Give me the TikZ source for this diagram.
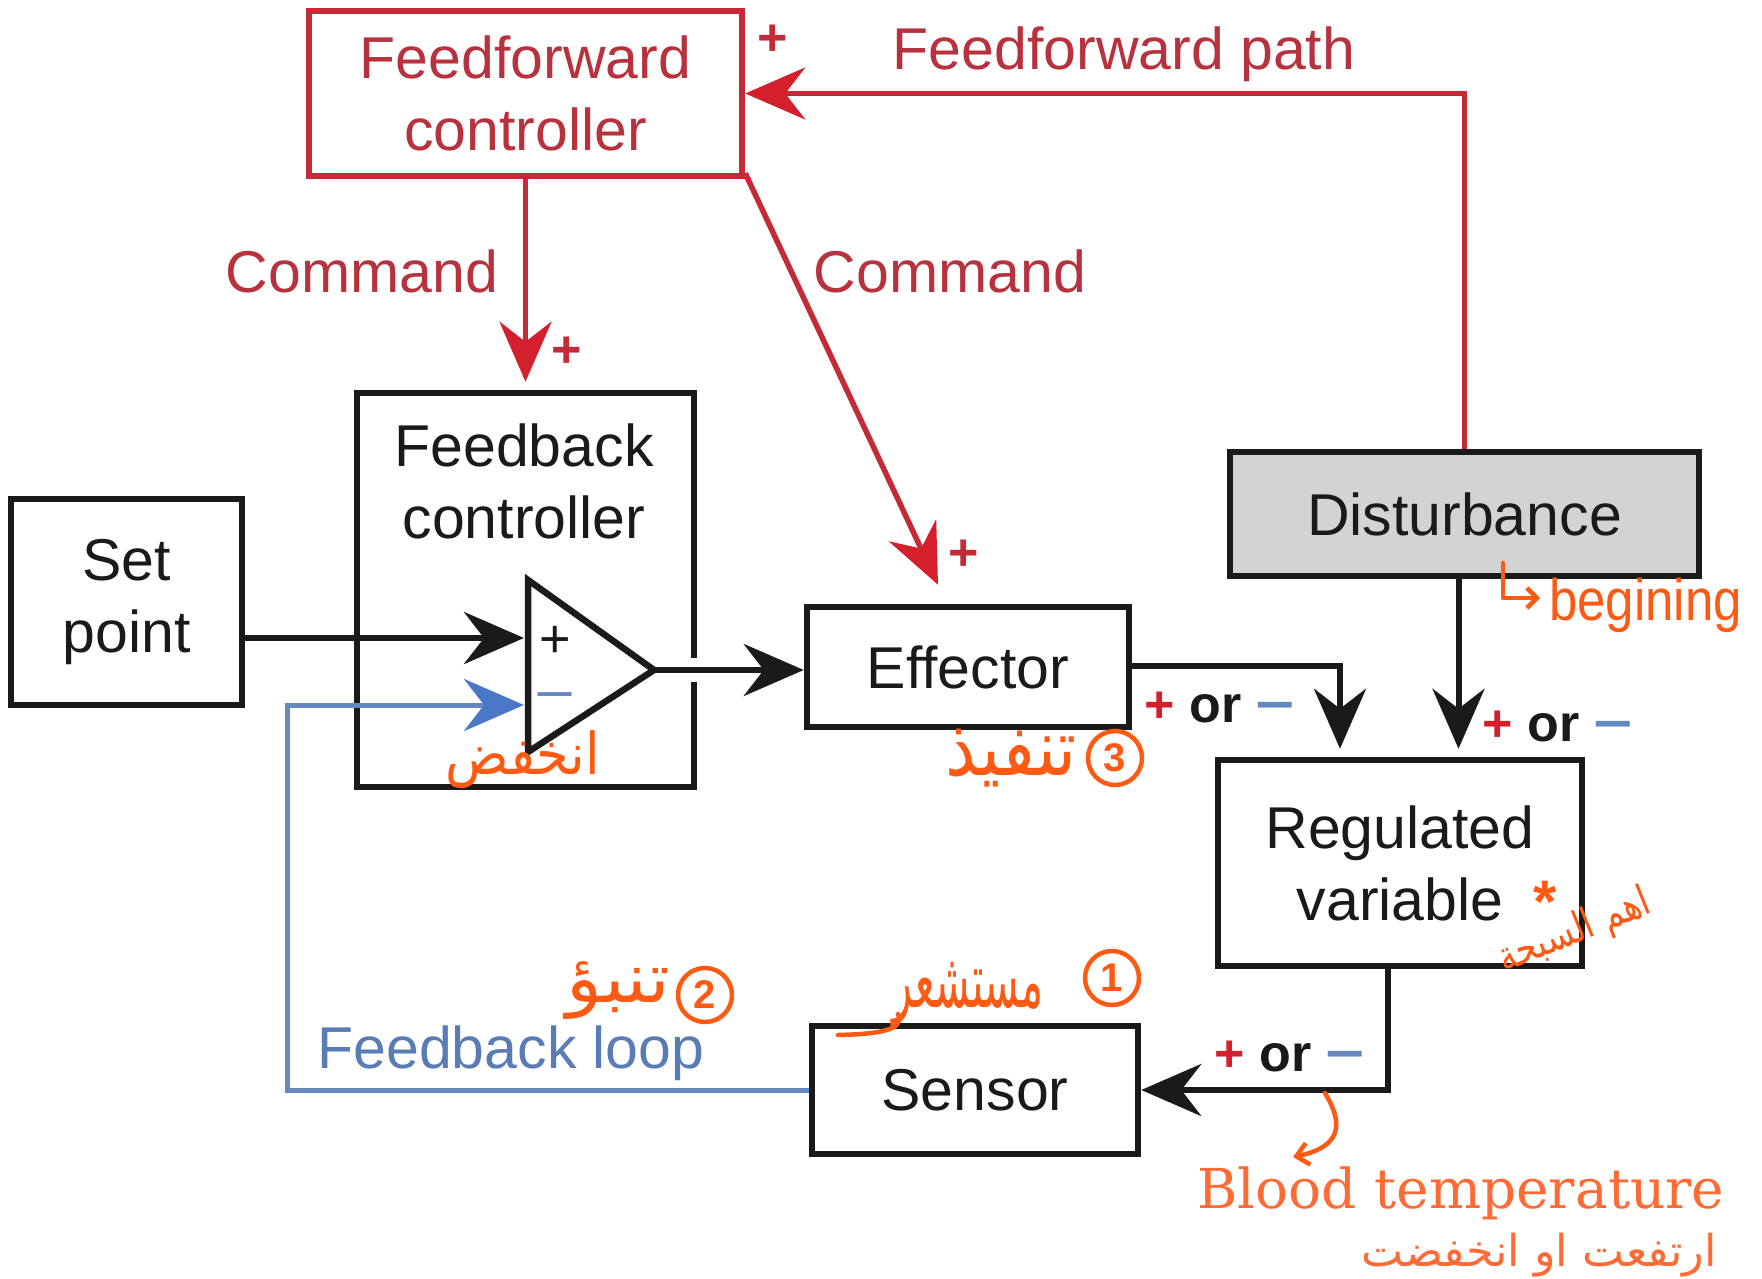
\documentclass[tikz,border=0pt]{standalone}
\usepackage{fontspec}
\setmainfont{Liberation Sans}
\newfontfamily\arabicfont[Script=Arabic]{DejaVu Sans}
\newfontfamily\typefont{DejaVu Serif}
\TeXXeTstate=1
\usetikzlibrary{arrows.meta}
\definecolor{ffred}{HTML}{C42B37}
\definecolor{ffredtxt}{HTML}{B8323E}
\definecolor{arrred}{HTML}{D4202C}
\definecolor{lblue}{HTML}{6688C0}
\definecolor{ablue}{HTML}{4A78C6}
\definecolor{txtblue}{HTML}{5A7CB6}
\definecolor{ink}{HTML}{1A1A1A}
\definecolor{hand}{HTML}{FF5A14}
\definecolor{orprint}{HTML}{FF6A35}
\definecolor{distgray}{HTML}{D3D3D3}
\tikzset{
  blk/.style={draw=ink, line width=6.5pt, inner sep=0pt, align=center, text=ink,
    font=\fontsize{59}{72}\selectfont},
  redblk/.style={blk, draw=ffred, text=ffredtxt},
  lbl/.style={inner sep=0pt, align=center, font=\fontsize{59}{72}\selectfont},
  sgn/.style={inner sep=0pt, font=\bfseries\fontsize{52}{60}\selectfont},
  tipk/.style={-{Stealth[length=60pt,width=52pt,inset=20pt]}},
  blackline/.style={draw=ink, line width=6pt, tipk},
  redline/.style={draw=ffred, line width=5.5pt,
    -{Stealth[length=60pt,width=52pt,inset=20pt,color=arrred]}},
  blueline/.style={draw=lblue, line width=5pt,
    -{Stealth[length=60pt,width=52pt,inset=20pt,color=ablue]}},
  handline/.style={draw=hand, line width=4.5pt, line cap=round, line join=round},
  handtxt/.style={inner sep=0pt, text=hand},
  handcirc/.style={circle, draw=hand, line width=4.5pt, minimum size=54pt, inner sep=0pt,
    text=hand, font=\bfseries\fontsize{40}{40}\selectfont},
}
\newcommand{\plusorminus}{{\color{arrred}+} {\color{ink}or} {\color{lblue}\scalebox{1.3}[1]{−}}}
\begin{document}
\begin{tikzpicture}[x=1pt,y=-1pt]
\useasboundingbox[fill=white] (0,0) rectangle (1762,1279);

% boxes
\node[redblk, minimum width=433pt, minimum height=165pt] (ff) at (525.5,93.5) {Feedforward\\controller};
\node[blk, minimum width=337pt, minimum height=394pt] (fb) at (525.5,590) {};
\node[lbl, text=ink] (fbt) at (524,481) {Feedback\\controller};
\node[blk, minimum width=231pt, minimum height=206pt] (sp) at (126.5,602) {Set\\point};
\node[blk, minimum width=322pt, minimum height=120pt] (eff) at (968,667) {Effector};
\node[blk, fill=distgray, minimum width=469pt, minimum height=124pt] (dist) at (1464.5,514) {Disturbance};
\node[blk, minimum width=364pt, minimum height=206pt] (reg) at (1400,863) {Regulated\\variable};
\node[blk, minimum width=326pt, minimum height=128pt] (sen) at (975,1090) {Sensor};

% comparator
\coordinate (tA) at (528,580);
\coordinate (tB) at (528,752);
\coordinate (tC) at (654,670);
\coordinate (tplus) at (524,638);
\coordinate (tminus) at (524,705);
\draw[ink, line width=6.5pt, line join=miter] (tA) -- (tB) -- (tC) -- cycle;
\node[inner sep=0pt, text=ink, font=\fontsize{54}{54}\selectfont] (cplus) at (555,642) {+};
\node[inner sep=0pt, text=lblue, font=\fontsize{54}{54}\selectfont] (cminus) at (555,703) {\scalebox{1.3}[1]{−}};

% gap in feedback box edge
\fill[white] (689,658) rectangle (699,682);

% connectors
\draw[redline] (dist.north) |- (ff.east);
\draw[redline] (ff.south) -- ([yshift=8pt]fb.north);
\draw[redline] ([yshift=6pt]ff.south east) -- ([xshift=-30pt,yshift=19pt]eff.north);
\draw[blackline] (sp.east |- tplus) -- (tplus);
\draw[blueline] (sen.west) -- (287,1090) -- (287,705) -- (tminus);
\draw[blackline] (tC) -- (tC -| eff.west);
\draw[blackline] ([yshift=1pt]eff.east) -| ([xshift=-60pt,yshift=8pt]reg.north);
\draw[blackline] ([xshift=-6pt]dist.south) -- ([xshift=-6pt,yshift=8pt]dist.south |- reg.north);
\draw[blackline] ([xshift=-12pt]reg.south) |- (sen.east);

% labels
\node[lbl, text=ffredtxt] (ffpath) at (1124,54) {Feedforward path};
\node[sgn, text=ffred] (p1) at (773,40) {+};
\node[lbl, text=ffredtxt] (cmd1) at (362,271) {Command};
\node[lbl, text=ffredtxt] (cmd2) at (950,271) {Command};
\node[sgn, text=ffred] (p2) at (567,352) {+};
\node[sgn, text=ffred] (p3) at (964,555) {+};
\node[lbl, text=txtblue] (fbloop) at (511,1053) {Feedback loop};
\node[sgn] (pm1) at (1220,708) {\plusorminus};
\node[sgn] (pm2) at (1558,727) {\plusorminus};
\node[sgn] (pm3) at (1290,1056) {\plusorminus};

% printed orange annotations
\node[inner sep=0pt, text=orprint, font=\typefont\fontsize{55}{55}\selectfont] (blood) at (1461,1193) {Blood temperature};
\node[inner sep=0pt, text=orprint] (rise) at (1539,1255) {\resizebox*{355pt}{44pt}{\arabicfont\beginR ارتفعت او انخفضت\endR}};

% handwritten annotations
\node[handtxt] (h1) at (523,760) {\resizebox*{154pt}{58pt}{\arabicfont\beginR انخفض\endR}};
\node[handtxt] (h3) at (1011,758) {\resizebox*{132pt}{58pt}{\arabicfont\beginR تنفيذ\endR}};
\node[handcirc] (c3) at (1115,758) {3};
\node[handtxt] (h2) at (618,990) {\resizebox*{104pt}{58pt}{\arabicfont\beginR تنبؤ\endR}};
\node[handcirc] (c2) at (705,995) {2};
\node[handtxt] (hs) at (968,994) {\resizebox*{150pt}{64pt}{\arabicfont\beginR مستشعر\endR}};
\node[handcirc] (c1) at (1112,978) {1};
\draw[handline] (898,1014) .. controls (905,1030) and (880,1034) .. (838,1035);
\node[handtxt, font=\bfseries\fontsize{60}{60}\selectfont] (star) at (1545,902) {*};
\node[handtxt, rotate=22] (hv) at (1575,932) {\resizebox*{160pt}{42pt}{\arabicfont\beginR اهم السبحة\endR}};
\draw[handline, -{Straight Barb[length=10pt,width=20pt]}] (1503,563) -- (1503,598) -- (1540,598);
\node[handtxt, anchor=base west, font=\fontsize{51}{51}\selectfont] (beg) at (1549,620) {\scalebox{1}[1.15]{begining}};
\coordinate (bstart) at (1325,1093);
\draw[handline, -{Straight Barb[length=12pt,width=22pt]}] (bstart) .. controls (1338,1115) and (1350,1145) .. (1293,1157);
\end{tikzpicture}
\end{document}
